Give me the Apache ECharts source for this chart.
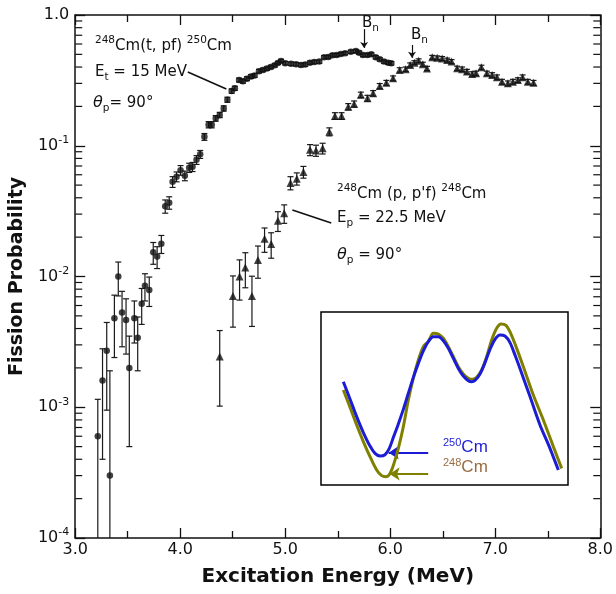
<!DOCTYPE html>
<html>
<head>
<meta charset="utf-8">
<title>Fission probability of 248Cm / 250Cm</title>
<script src="https://cdn.jsdelivr.net/npm/echarts@6/dist/echarts.min.js"></script>
<style>
  html, body { margin: 0; padding: 0; background: #fff; }
  #chart { width: 616px; height: 594px; }
</style>
</head>
<body>
<div id="chart"></div>
<script>
  // 248Cm(t,pf)250Cm  (circles)
  var circX = [3.215, 3.26, 3.30, 3.33, 3.373, 3.41, 3.446, 3.484, 3.515, 3.563, 3.595, 3.633, 3.664, 3.705,
    3.743, 3.78, 3.82, 3.857, 3.895, 3.927, 3.965, 4.003, 4.044, 4.085, 4.117, 4.155, 4.19, 4.23, 4.27, 4.30,
    4.338, 4.376, 4.414, 4.449, 4.49, 4.52, 4.56, 4.597, 4.635, 4.673, 4.708, 4.75, 4.787, 4.825, 4.863, 4.90,
    4.93, 4.96, 5.0, 5.055, 5.103, 5.15, 5.19, 5.236, 5.277, 5.324, 5.37, 5.41, 5.45, 5.49, 5.53, 5.57, 5.625,
    5.672, 5.704, 5.74, 5.783, 5.82, 5.862, 5.90, 5.94, 5.98, 6.01];
  var circY = [6.0e-4, 1.6e-3, 2.7e-3, 3.0e-4, 4.8e-3, 1.0e-2, 5.3e-3, 4.65e-3, 2.0e-3, 4.8e-3, 3.4e-3, 6.2e-3, 8.5e-3, 7.9e-3,
    0.0153, 0.0142, 0.0178, 0.0345, 0.0367, 0.053, 0.058, 0.065, 0.059, 0.068, 0.069, 0.078, 0.086, 0.117, 0.145, 0.145,
    0.162, 0.172, 0.193, 0.225, 0.262, 0.275, 0.318, 0.312, 0.326, 0.338, 0.345, 0.372, 0.38, 0.389, 0.40, 0.412,
    0.43, 0.445, 0.428, 0.424, 0.42, 0.415, 0.418, 0.432, 0.437, 0.44, 0.475, 0.478, 0.492, 0.494, 0.503, 0.51, 0.524,
    0.53, 0.515, 0.494, 0.494, 0.50, 0.475, 0.458, 0.44, 0.432, 0.427];
  var circErr = [5.5e-4, 1.2e-3, 1.75e-3, 1.6e-3, 2.4e-3, 2.9e-3, 2.4e-3, 2.1e-3, 1.5e-3, 1.7e-3, 1.5e-3, 1.9e-3, 2.0e-3, 2.0e-3,
    2.9e-3, 2.7e-3, 2.8e-3, 4.0e-3, 4.0e-3, 5.0e-3, 5.0e-3, 5.5e-3, 5.0e-3, 5.5e-3, 5.5e-3, 6e-3, 6e-3, 7e-3, 8e-3, 8e-3,
    8e-3, 8e-3, 9e-3, 0.01, 0.01, 0.01, 0.011, 0.011, 0.011, 0.011, 0.011, 0.012, 0.012, 0.012, 0.012, 0.012,
    0.012, 0.013, 0.013, 0.013, 0.013, 0.013, 0.013, 0.013, 0.013, 0.013, 0.014, 0.014, 0.014, 0.014, 0.014, 0.014, 0.015,
    0.015, 0.015, 0.014, 0.014, 0.014, 0.014, 0.013, 0.013, 0.013, 0.013];

  // 248Cm(p,p'f)248Cm  (triangles)
  var triX = [4.376, 4.502, 4.565, 4.62, 4.683, 4.74, 4.803, 4.866, 4.93, 4.99, 5.05, 5.11, 5.173, 5.236, 5.293,
    5.356, 5.42, 5.473, 5.536, 5.60, 5.656, 5.72, 5.783, 5.837, 5.90, 5.963, 6.027, 6.09, 6.147, 6.19, 6.23, 6.27,
    6.31, 6.35, 6.40, 6.447, 6.494, 6.542, 6.584, 6.637, 6.684, 6.73, 6.78, 6.817, 6.868, 6.92, 6.97, 7.016, 7.064,
    7.12, 7.168, 7.215, 7.26, 7.31, 7.364];
  var triY = [2.44e-3, 7.1e-3, 1.0e-2, 1.17e-2, 7.1e-3, 1.34e-2, 1.94e-2, 1.77e-2, 2.67e-2, 3.04e-2, 5.2e-2, 5.6e-2, 6.3e-2, 9.3e-2, 9.2e-2,
    0.0955, 0.128, 0.169, 0.169, 0.199, 0.209, 0.245, 0.231, 0.252, 0.286, 0.303, 0.328, 0.38, 0.385, 0.415, 0.432, 0.447,
    0.42, 0.39, 0.475, 0.47, 0.465, 0.452, 0.44, 0.391, 0.385, 0.369, 0.354, 0.358, 0.398, 0.358, 0.348, 0.334, 0.309,
    0.30, 0.309, 0.318, 0.334, 0.309, 0.303];
  var triErr = [1.42e-3, 3.0e-3, 3.4e-3, 3.5e-3, 2.95e-3, 3.7e-3, 4.1e-3, 3.9e-3, 4.6e-3, 4.9e-3, 6e-3, 6e-3, 6.5e-3, 9e-3, 9e-3,
    9e-3, 9e-3, 0.01, 0.01, 0.011, 0.011, 0.012, 0.012, 0.012, 0.013, 0.013, 0.014, 0.015, 0.015, 0.015, 0.015, 0.015,
    0.015, 0.015, 0.016, 0.016, 0.016, 0.016, 0.016, 0.015, 0.015, 0.015, 0.014, 0.014, 0.015, 0.014, 0.014, 0.014, 0.013,
    0.013, 0.013, 0.013, 0.014, 0.013, 0.013];

  // inset: double-humped fission barriers (arbitrary units, 0-100)
  var b250X = [9.04, 11.74, 14.44, 17.14, 19.84, 21.86, 23.89, 25.91, 27.66, 29.28, 31.31, 33.33, 35.36, 37.38,
    39.41, 41.43, 43.45, 45.48, 47.50, 49.53, 51.55, 53.58, 55.60, 57.62, 59.65, 61.0, 62.35, 64.37, 66.40,
    68.42, 70.45, 72.47, 74.49, 76.52, 78.54, 81.24, 84.62, 88.66, 92.71, 96.09];
  var b250Y = [59.7, 49.7, 39.5, 30.3, 22.5, 18.3, 16.8, 17.5, 21.2, 27.4, 35.3, 43.7, 53.0, 62.2,
    70.3, 77.5, 82.9, 85.7, 85.7, 83.4, 79.0, 73.2, 67.4, 63.0, 60.3, 59.7, 60.5, 64.2, 70.7,
    78.4, 84.2, 86.7, 86.1, 82.3, 75.1, 64.6, 51.1, 34.7, 21.2, 8.7];
  var b248X = [9.04, 11.74, 14.44, 17.14, 19.84, 22.54, 24.56, 26.32, 27.94, 29.55, 31.31, 33.33, 35.36, 37.38,
    39.41, 41.43, 43.45, 45.48, 47.50, 49.53, 51.55, 53.58, 55.60, 57.62, 59.65, 61.40, 63.02, 65.05, 67.07,
    69.10, 71.12, 72.87, 74.90, 76.79, 78.95, 81.92, 85.96, 90.01, 94.06, 97.44];
  var b248Y = [54.9, 44.9, 34.7, 25.1, 16.4, 8.7, 5.4, 4.8, 6.7, 12.5, 21.2, 33.7, 49.1, 61.7,
    72.3, 80.0, 82.9, 87.7, 87.3, 84.8, 80.0, 74.2, 68.4, 64.2, 61.7, 61.1, 62.2, 66.5, 74.2,
    83.8, 90.6, 93.1, 92.3, 87.7, 80.0, 68.4, 52.0, 37.6, 22.2, 9.6];

  // axes
  var yTickVals = [1e-4, 1e-3, 1e-2, 1e-1, 1];
  var yTickText = ['{b|10}{s|-4}', '{b|10}{s|-3}', '{b|10}{s|-2}', '{b|10}{s|-1}', '{b|1.0}'];
  var yMinorMant = [2, 3, 4, 5, 6, 7, 8, 9];
  var yDecades = [1e-4, 1e-3, 1e-2, 1e-1];

  var YMIN = 1e-4;
  var ink = '#111';
  var fam = 'DejaVu Sans';

  function errData(xs, ys, es) {
    return xs.map(function (x, i) {
      var lo = ys[i] - es[i];
      var clipped = lo <= YMIN ? 1 : 0;
      return [x, Math.max(lo, YMIN), ys[i] + es[i], clipped];
    });
  }
  function pairs(xs, ys) {
    return xs.map(function (x, i) { return [x, ys[i]]; });
  }

  var yMinor = [];
  yDecades.forEach(function (d) {
    yMinorMant.forEach(function (m) { yMinor.push([3, m * d]); });
  });

  function errorBar(params, api) {
    var x = api.value(0);
    var top = api.coord([x, api.value(2)]);
    var bot = api.coord([x, api.value(1)]);
    var cap = 3;
    var st = { stroke: '#1a1a1a', lineWidth: 1.2 };
    var kids = [
      { type: 'line', shape: { x1: top[0], y1: top[1], x2: bot[0], y2: bot[1] }, style: st },
      { type: 'line', shape: { x1: top[0] - cap, y1: top[1], x2: top[0] + cap, y2: top[1] }, style: st }
    ];
    if (!api.value(3)) {
      kids.push({ type: 'line', shape: { x1: bot[0] - cap, y1: bot[1], x2: bot[0] + cap, y2: bot[1] }, style: st });
    }
    return { type: 'group', children: kids };
  }

  // log minor ticks on left and right frame
  function minorTick(params, api) {
    var v = api.value(1);
    var l = api.coord([3, v]);
    var r = api.coord([8, v]);
    var len = 7;
    var st = { stroke: ink, lineWidth: 1.2 };
    return {
      type: 'group', children: [
        { type: 'line', shape: { x1: l[0], y1: l[1], x2: l[0] + len, y2: l[1] }, style: st },
        { type: 'line', shape: { x1: r[0] - len, y1: r[1], x2: r[0], y2: r[1] }, style: st }
      ]
    };
  }

  var rich = {
    m: { fontSize: 15, fontFamily: fam, fill: ink, lineHeight: 22 },
    s: { fontSize: 10.5, fontFamily: fam, fill: ink, lineHeight: 10, verticalAlign: 'top' },
    u: { fontSize: 10.5, fontFamily: fam, fill: ink, lineHeight: 8, verticalAlign: 'bottom' },
    th: { fontSize: 16, fontFamily: fam, fontStyle: 'italic', fill: ink, lineHeight: 22 }
  };
  function note(x, y, text) {
    return { type: 'text', x: x, y: y, z: 50, style: { text: text, rich: rich, align: 'left', verticalAlign: 'top' } };
  }
  function insetLabel(x, y, iso, color) {
    return {
      type: 'text', x: x, y: y, z: 50,
      style: {
        text: '{s|' + iso + '}{m|Cm}', align: 'left', verticalAlign: 'top',
        rich: {
          m: { fontSize: 17, fontFamily: 'Liberation Sans', fill: color, lineHeight: 20 },
          s: { fontSize: 11, fontFamily: 'Liberation Sans', fill: color, lineHeight: 10, verticalAlign: 'top' }
        }
      }
    };
  }

  var lineSt = { color: ink, width: 1.6, type: 'solid' };
  var frameTick = { show: true, inside: true, length: 10, lineStyle: { color: ink, width: 1.3 } };
  var frameLine = { show: true, lineStyle: { color: ink, width: 1.5 } };

  var chart = echarts.init(document.getElementById('chart'));
  chart.setOption({
    backgroundColor: '#fff',
    animation: false,
    grid: [
      { left: 75, right: 14, top: 15, bottom: 56 },
      { left: 321, top: 312, width: 247, height: 173, show: true, backgroundColor: '#fff', borderColor: '#000', borderWidth: 1.5, z: 5 }
    ],
    xAxis: [
      {
        type: 'value', gridIndex: 0, min: 3, max: 8, interval: 1, position: 'bottom',
        axisLine: frameLine, axisTick: frameTick,
        minorTick: { show: true, splitNumber: 2, length: 7, lineStyle: { color: ink, width: 1.3 } },
        splitLine: { show: false },
        axisLabel: { formatter: function (v) { return v.toFixed(1); }, fontSize: 16, fontFamily: fam, color: ink, margin: 4 },
        name: 'Excitation Energy (MeV)', nameLocation: 'middle', nameGap: 29,
        nameTextStyle: { fontSize: 20, fontWeight: 'bold', fontFamily: fam, color: ink }
      },
      {
        type: 'value', gridIndex: 0, min: 3, max: 8, interval: 1, position: 'top',
        axisLine: frameLine, axisTick: frameTick,
        minorTick: { show: true, splitNumber: 2, length: 7, lineStyle: { color: ink, width: 1.3 } },
        splitLine: { show: false }, axisLabel: { show: false }
      },
      { type: 'value', gridIndex: 1, min: 0, max: 100, show: false }
    ],
    yAxis: [
      {
        type: 'log', logBase: 10, gridIndex: 0, min: 1e-4, max: 1, position: 'left',
        axisLine: frameLine, axisTick: frameTick, splitLine: { show: false }, minorTick: { show: false },
        axisLabel: {
          margin: 6, color: ink,
          formatter: function (v) {
            var i = yTickVals.findIndex(function (t) { return Math.abs(Math.log10(t) - Math.log10(v)) < 1e-6; });
            return i >= 0 ? yTickText[i] : '';
          },
          rich: {
            b: { fontSize: 16, fontFamily: fam, color: ink, lineHeight: 22 },
            s: { fontSize: 11, fontFamily: fam, color: ink, lineHeight: 11, verticalAlign: 'top' }
          }
        },
        name: 'Fission Probability', nameLocation: 'middle', nameGap: 48, nameRotate: 90,
        nameTextStyle: { fontSize: 19, fontWeight: 'bold', fontFamily: fam, color: ink }
      },
      {
        type: 'log', logBase: 10, gridIndex: 0, min: 1e-4, max: 1, position: 'right',
        axisLine: frameLine, axisTick: frameTick, splitLine: { show: false }, axisLabel: { show: false }
      },
      { type: 'value', gridIndex: 1, min: 0, max: 100, show: false }
    ],
    graphic: [
      note(95, 35, '{s|248}{m|Cm(t, pf) }{s|250}{m|Cm}'),
      note(95, 61, '{m|E}{u|t}{m| = 15 MeV}'),
      note(93, 92, '{th|θ}{u|p}{m|= 90°}'),
      note(337, 183, "{s|248}{m|Cm (p, p'f) }{s|248}{m|Cm}"),
      note(337, 207, '{m|E}{u|p}{m| = 22.5 MeV}'),
      note(337, 244, '{th|θ}{u|p}{m| = 90°}'),
      note(362, 12, '{m|B}{u|n}'),
      note(411, 24, '{m|B}{u|n}'),
      insetLabel(443, 437, '250', '#1c1cd4'),
      insetLabel(443, 457, '248', '#9a6c40')
    ],
    series: [
      {
        type: 'custom', name: 'minor ticks', xAxisIndex: 0, yAxisIndex: 0, silent: true, z: 1,
        renderItem: minorTick, encode: { x: 0, y: 1 }, data: yMinor
      },
      {
        type: 'custom', name: 'err t,pf', xAxisIndex: 0, yAxisIndex: 0, silent: true, z: 2,
        renderItem: errorBar, encode: { x: 0, y: [1, 2] }, data: errData(circX, circY, circErr)
      },
      {
        type: 'custom', name: "err p,p'f", xAxisIndex: 0, yAxisIndex: 0, silent: true, z: 2,
        renderItem: errorBar, encode: { x: 0, y: [1, 2] }, data: errData(triX, triY, triErr)
      },
      {
        type: 'scatter', name: '248Cm(t,pf)250Cm', xAxisIndex: 0, yAxisIndex: 0, z: 3,
        symbol: 'circle', symbolSize: 6.5, itemStyle: { color: ink },
        data: pairs(circX, circY),
        markLine: {
          silent: true, symbol: ['none', 'none'], label: { show: false }, lineStyle: lineSt,
          data: [
            [{ coord: [4.072, 0.366] }, { coord: [4.439, 0.272] }],
            [{ coord: [5.068, 0.0323] }, { coord: [5.438, 0.0257] }]
          ]
        }
      },
      {
        type: 'scatter', name: "248Cm(p,p'f)248Cm", xAxisIndex: 0, yAxisIndex: 0, z: 3,
        symbol: 'triangle', symbolSize: 8, itemStyle: { color: ink },
        data: pairs(triX, triY),
        markLine: {
          silent: true, symbol: ['none', 'arrow'], symbolSize: 6, label: { show: false },
          lineStyle: { color: ink, width: 1.2, type: 'solid' },
          data: [
            [{ coord: [5.751, 0.78] }, { coord: [5.751, 0.56] }],
            [{ coord: [6.207, 0.59] }, { coord: [6.207, 0.47] }]
          ]
        }
      },
      {
        type: 'line', name: '248Cm barrier', xAxisIndex: 2, yAxisIndex: 2, z: 6,
        smooth: 0.3, showSymbol: false, silent: true,
        lineStyle: { color: '#808000', width: 3 },
        data: pairs(b248X, b248Y),
        markLine: {
          silent: true, symbol: ['none', 'arrow'], symbolSize: 10, label: { show: false },
          lineStyle: { color: '#808000', width: 2, type: 'solid' },
          data: [[{ coord: [43.4, 6.4] }, { coord: [27.8, 6.4] }]]
        }
      },
      {
        type: 'line', name: '250Cm barrier', xAxisIndex: 2, yAxisIndex: 2, z: 7,
        smooth: 0.3, showSymbol: false, silent: true,
        lineStyle: { color: '#1c1cd4', width: 3 },
        data: pairs(b250X, b250Y),
        markLine: {
          silent: true, symbol: ['none', 'arrow'], symbolSize: 10, label: { show: false },
          lineStyle: { color: '#1c1cd4', width: 2, type: 'solid' },
          data: [[{ coord: [43.4, 18.7] }, { coord: [27.4, 18.7] }]]
        }
      }
    ]
  });
</script>
</body>
</html>
